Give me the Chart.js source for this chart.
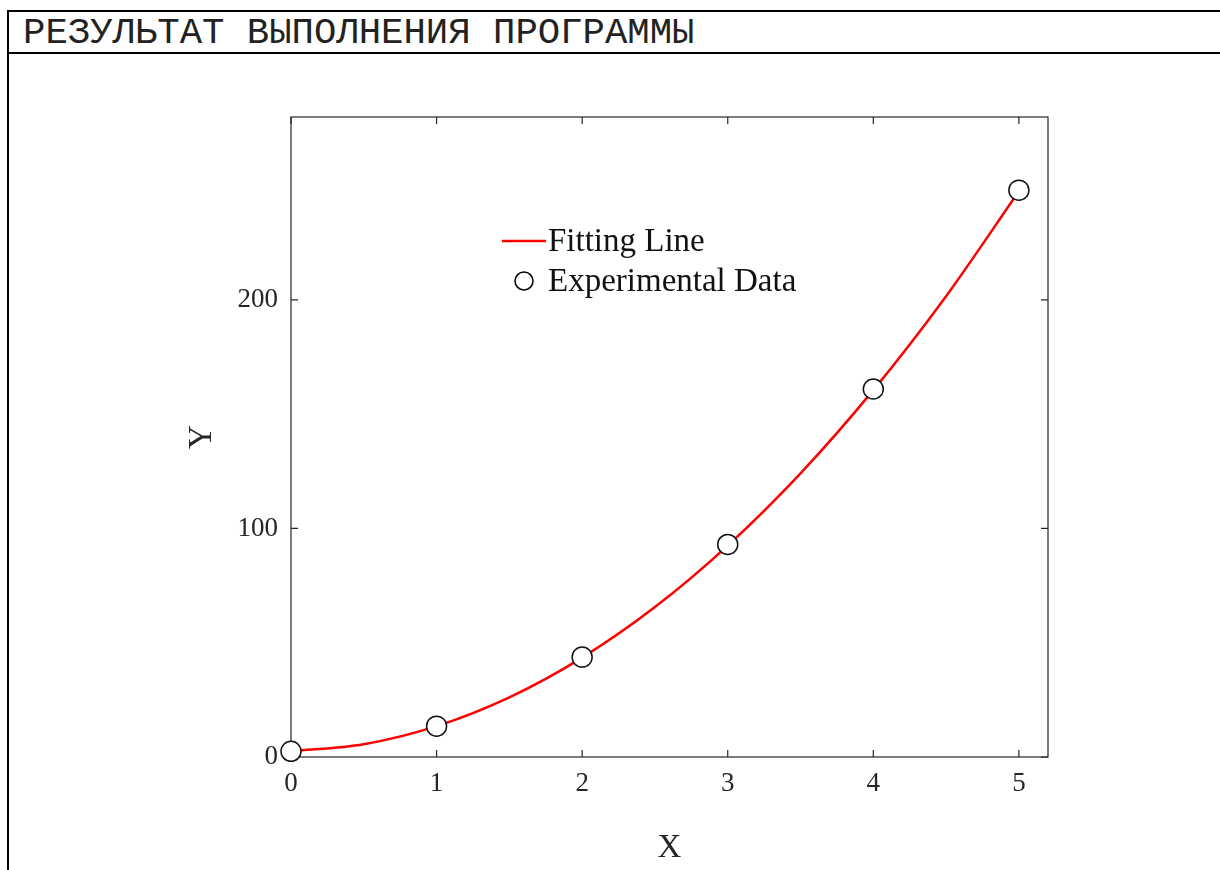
<!DOCTYPE html>
<html>
<head>
<meta charset="utf-8">
<script src="https://cdn.jsdelivr.net/npm/chart.js@4.4.1/dist/chart.umd.min.js"></script>
<style>
  html, body { margin:0; padding:0; width:1220px; height:870px; overflow:hidden; background:#fff; }
  #frame { position:absolute; left:7px; top:10px; width:1400px; height:900px;
           border-top:2px solid #000; border-left:2px solid #000; }
  #hdr { height:40px; border-bottom:2px solid #000; font-family:"Liberation Mono","Courier New",monospace;
         font-size:37.3px; line-height:42px; padding-left:14px; color:#222; white-space:nowrap; }
  #c { position:absolute; left:0; top:0; }
</style>
</head>
<body>
<div id="frame"><div id="hdr">РЕЗУЛЬТАТ ВЫПОЛНЕНИЯ ПРОГРАММЫ</div></div>
<canvas id="c" width="1220" height="870"></canvas>
<script>
// ---- data ----
const expX = [0, 1, 2, 3, 4, 5];
const expY = [2.5, 13.5, 43.7, 93, 161, 248];
const fitX = [0, 0.5, 1, 1.5, 2, 2.5, 3, 3.5, 4, 4.5, 5];
const fitY = [2.5, 5.6, 13.5, 26.1, 43.5, 65.6, 92.5, 124.1, 160.5, 201.6, 247.5];
const xTicks = [0, 1, 2, 3, 4, 5];
const yTicks = [0, 100, 200];
const seriesNames = ['Fitting Line', 'Experimental Data'];
const axisTitles = {x: 'X', y: 'Y'};

const AXIS_COLOR = '#262626';
const SERIF = '"Liberation Serif","Times New Roman",serif';

const boxPlugin = {
  id: 'boxTicks',
  beforeDatasetsDraw(chart) {
    const {ctx, chartArea: a, scales} = chart;
    ctx.save();
    ctx.strokeStyle = AXIS_COLOR;
    ctx.lineWidth = 1.2;
    ctx.strokeRect(a.left, a.top, a.right - a.left, a.bottom - a.top);
    const tl = 7;
    ctx.beginPath();
    xTicks.forEach(v => {
      const px = scales.x.getPixelForValue(v);
      ctx.moveTo(px, a.bottom); ctx.lineTo(px, a.bottom - tl);
      ctx.moveTo(px, a.top); ctx.lineTo(px, a.top + tl);
    });
    yTicks.forEach(v => {
      const py = scales.y.getPixelForValue(v);
      ctx.moveTo(a.left, py); ctx.lineTo(a.left + tl, py);
      ctx.moveTo(a.right, py); ctx.lineTo(a.right - tl, py);
    });
    ctx.stroke();
    ctx.restore();
  },
  afterDraw(chart) {
    const {ctx, chartArea: a} = chart;
    const ds = chart.data.datasets;
    ctx.save();
    const lx0 = a.left + 211, lx1 = a.left + 255, tx = a.left + 257;
    const y1 = a.top + 124, y2 = a.top + 164;
    ctx.strokeStyle = ds[0].borderColor; ctx.lineWidth = 2.5;
    ctx.beginPath(); ctx.moveTo(lx0, y1); ctx.lineTo(lx1, y1); ctx.stroke();
    ctx.beginPath(); ctx.arc((lx0 + lx1) / 2, y2, 9, 0, Math.PI * 2);
    ctx.fillStyle = '#fff'; ctx.fill();
    ctx.strokeStyle = '#000'; ctx.lineWidth = 1.5; ctx.stroke();
    ctx.fillStyle = '#111';
    ctx.font = '33px ' + SERIF;
    ctx.textBaseline = 'middle';
    ctx.textAlign = 'left';
    ctx.fillText(ds[0].label, tx, y1 + 1);
    ctx.fillText(ds[1].label, tx, y2 + 1);
    ctx.restore();
  }
};

new Chart(document.getElementById('c'), {
  type: 'scatter',
  data: {
    datasets: [
      {
        label: seriesNames[0],
        data: fitX.map((x, i) => ({x, y: fitY[i]})),
        showLine: true,
        borderColor: '#ff0000',
        borderWidth: 2.5,
        pointRadius: 0,
        cubicInterpolationMode: 'monotone',
        fill: false,
        order: 2
      },
      {
        label: seriesNames[1],
        data: expX.map((x, i) => ({x, y: expY[i]})),
        showLine: false,
        pointRadius: 10,
        pointHoverRadius: 10,
        pointBackgroundColor: '#ffffff',
        pointBorderColor: '#111',
        pointBorderWidth: 1.5,
        clip: false,
        order: 1
      }
    ]
  },
  options: {
    responsive: false,
    animation: false,
    events: [],
    layout: { padding: { left: 183, top: 117, right: 172, bottom: 2 } },
    plugins: { legend: { display: false }, tooltip: { enabled: false } },
    scales: {
      x: {
        type: 'linear', min: 0, max: 5.2,
        afterBuildTicks: s => { s.ticks = xTicks.map(v => ({value: v})); },
        afterFit: s => { s.height = 111; },
        grid: { display: false, drawTicks: false },
        border: { display: false },
        ticks: { padding: 11, color: AXIS_COLOR, font: { family: SERIF, size: 27 }, includeBounds: false, maxRotation: 0 },
        title: { display: true, text: axisTitles.x, color: AXIS_COLOR, padding: 0, font: { family: SERIF, size: 33 } }
      },
      y: {
        type: 'linear', min: 0, max: 280,
        afterBuildTicks: s => { s.ticks = yTicks.map(v => ({value: v})); },
        afterFit: s => { s.width = 108; },
        grid: { display: false, drawTicks: false },
        border: { display: false },
        ticks: { padding: 13, color: AXIS_COLOR, font: { family: SERIF, size: 27 }, includeBounds: false },
        title: { display: true, text: axisTitles.y, color: AXIS_COLOR, padding: 0, font: { family: SERIF, size: 33 } }
      }
    }
  },
  plugins: [boxPlugin]
});
</script>
</body>
</html>
